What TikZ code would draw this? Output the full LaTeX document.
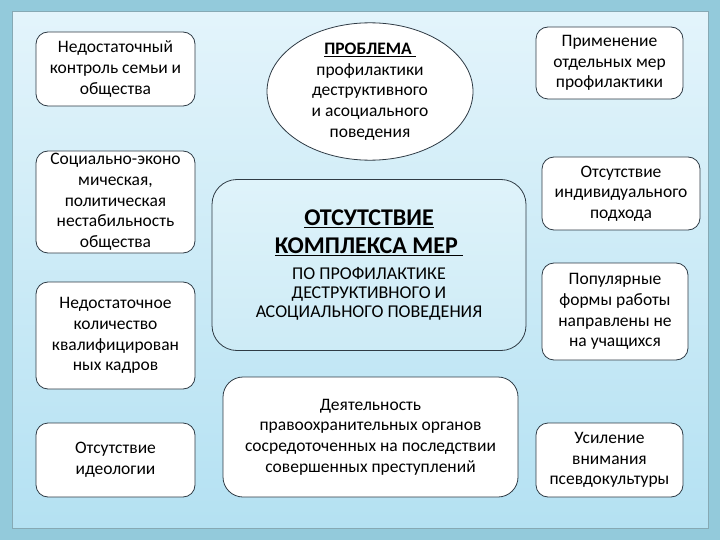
\documentclass[tikz,border=0pt]{standalone}
\usepackage{fontspec}
\setmainfont{Carlito}
\usetikzlibrary{shapes.geometric}
\definecolor{outerbg}{HTML}{93CADB}
\definecolor{paneltop}{HTML}{E3F4FB}
\definecolor{panelbot}{HTML}{B4E1F2}
\definecolor{panelline}{HTML}{86A9B4}
\definecolor{boxline}{HTML}{2F3B45}
\definecolor{centtop}{HTML}{DFF3FA}
\definecolor{centbot}{HTML}{CDEBF6}
\newcommand{\myheadfont}{\fontsize{24}{28}\selectfont\bfseries}
\newcommand{\mysubfont}{\fontsize{18}{18.8}\selectfont\mdseries}
\begin{document}
\begin{tikzpicture}[x=1pt,y=-1pt,
  txt/.style={font=\fontsize{17.5}{20.7}\selectfont, align=center, text=black},
  sidebox/.style={txt, draw=boxline, line width=0.8pt, fill=white, rounded corners=12pt, inner sep=0pt},
  probell/.style={txt, ellipse, draw=boxline, line width=0.8pt, fill=white, inner sep=0pt},
  centbox/.style={draw=boxline, line width=0.8pt, top color=centtop, bottom color=centbot, rounded corners=25pt, inner sep=0pt, text=black},
  bigbox/.style={txt, draw=boxline, line width=0.8pt, fill=white, rounded corners=20pt, inner sep=0pt}
]
\useasboundingbox (0,0) rectangle (720,540);
\fill[outerbg] (0,0) rectangle (720,540);
\shade[top color=paneltop, bottom color=panelbot] (12,12) rectangle (708,528);
\draw[panelline, line width=1pt] (12,12) rectangle (708,528);

\node[sidebox, minimum width=159pt, minimum height=74pt] (l1) at (115.5,69)
  {Недостаточный\\контроль семьи и\\общества};
\node[sidebox, minimum width=159pt, minimum height=102pt] (l2) at (115.5,202)
  {Социально-эконо\\мическая,\\политическая\\нестабильность\\общества};
\node[sidebox, minimum width=159pt, minimum height=107pt] (l3) at (115.5,335.5)
  {Недостаточное\\количество\\квалифицирован\\ных кадров};
\node[sidebox, minimum width=159pt, minimum height=74pt] (l4) at (115.5,460)
  {Отсутствие\\идеологии};

\node[probell, minimum width=206pt, minimum height=137pt] (prob) at (370,91.5)
  {\textbf{\underline{ПРОБЛЕМА\ }}\\профилактики\\деструктивного\\и асоциального\\поведения};

\node[centbox, minimum width=314pt, minimum height=171pt] (cent) at (369,265)
  {\parbox{300pt}{\centering
   \myheadfont\underline{ОТСУТСТВИЕ}\\
   \underline{КОМПЛЕКСА МЕР\ }\par
   \vspace{7pt}
   \mysubfont ПО ПРОФИЛАКТИКЕ\\
   ДЕСТРУКТИВНОГО И\\
   АСОЦИАЛЬНОГО ПОВЕДЕНИЯ\par}};

\node[bigbox, minimum width=295pt, minimum height=120pt] (law) at (370.5,437)
  {Деятельность\\правоохранительных органов\\сосредоточенных на последствии\\совершенных преступлений};

\node[sidebox, minimum width=147pt, minimum height=72pt] (r1) at (609.5,63)
  {Применение\\отдельных мер\\профилактики};
\node[sidebox, minimum width=158pt, minimum height=73pt] (r2) at (621,193.5)
  {Отсутствие\\индивидуального\\подхода};
\node[sidebox, minimum width=146pt, minimum height=97pt] (r3) at (615,311.5)
  {Популярные\\формы работы\\направлены не\\на учащихся};
\node[sidebox, minimum width=147pt, minimum height=74pt] (r4) at (609.5,460)
  {Усиление\\внимания\\псевдокультуры};
\end{tikzpicture}
\end{document}
